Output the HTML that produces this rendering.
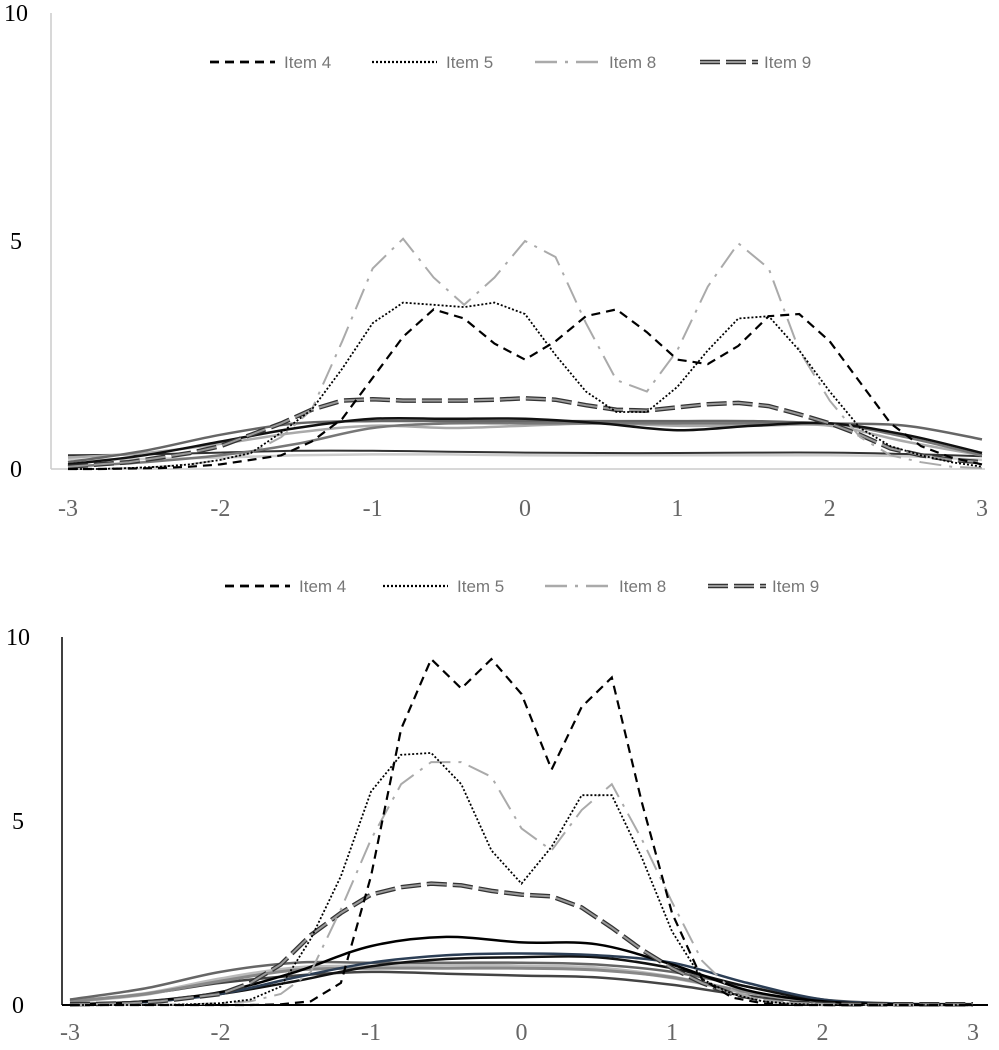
<!DOCTYPE html>
<html><head><meta charset="utf-8"><style>
body{margin:0;background:#fff;}
svg{display:block;}
.yl{font-family:"Liberation Serif",serif;font-size:24px;fill:#000;}
.xl{font-family:"Liberation Serif",serif;font-size:24px;fill:#666;}
.lg{font-family:"Liberation Sans",sans-serif;font-size:17px;fill:#777;}
</style></head><body>
<svg id="c" width="999" height="1050" viewBox="0 0 999 1050"></svg>
<script>
const xFine = [-3,-2.8,-2.6,-2.4,-2.2,-2,-1.8,-1.6,-1.4,-1.2,-1,-0.8,-0.6,-0.4,-0.2,0,0.2,0.4,0.6,0.8,1,1.2,1.4,1.6,1.8,2,2.2,2.4,2.6,2.8,3];
const xCoarse = [-3,-2.5,-2,-1.5,-1,-0.5,0,0.5,1,1.5,2,2.5,3];
const xTicks = [-3,-2,-1,0,1,2,3];
const yTicks = [0,5,10];
const legendNames = ["Item 4","Item 5","Item 8","Item 9"];
// Top chart
const topItem4 = [0,0,0.01,0.02,0.05,0.1,0.2,0.3,0.6,1.1,2.0,2.9,3.5,3.3,2.75,2.4,2.8,3.35,3.5,3.0,2.4,2.3,2.7,3.35,3.4,2.8,1.9,1.0,0.5,0.25,0.1];
const topItem5 = [0,0,0.02,0.05,0.1,0.2,0.35,0.8,1.3,2.2,3.2,3.65,3.6,3.55,3.65,3.4,2.5,1.7,1.25,1.25,1.8,2.6,3.3,3.35,2.6,1.7,0.9,0.5,0.3,0.15,0.05];
const topItem8 = [0,0,0.02,0.05,0.1,0.2,0.35,0.7,1.3,2.8,4.4,5.05,4.2,3.6,4.2,5.0,4.65,3.2,1.95,1.7,2.6,4.0,4.95,4.4,2.6,1.5,0.7,0.3,0.15,0.05,0.02];
const topItem9 = [0.05,0.1,0.15,0.25,0.35,0.5,0.75,1.0,1.3,1.5,1.53,1.5,1.5,1.5,1.52,1.55,1.52,1.4,1.3,1.28,1.35,1.42,1.45,1.38,1.2,1.0,0.75,0.45,0.3,0.2,0.15];
const topSolid1 = [0.1,0.3,0.6,0.9,1.1,1.1,1.1,1.0,0.85,0.95,1.0,0.75,0.35];
const topSolid2 = [0.15,0.4,0.75,1.0,1.05,1.05,1.05,1.05,1.05,1.05,1.0,0.95,0.65];
const topSolid3 = [0.05,0.15,0.3,0.55,0.9,1.0,1.0,1.0,1.0,1.0,1.0,0.7,0.3];
const topSolid4 = [0.25,0.35,0.55,0.8,0.95,0.9,0.95,1.0,0.95,0.95,0.95,0.6,0.3];
const topSolid5 = [0.3,0.32,0.36,0.4,0.4,0.38,0.36,0.35,0.35,0.36,0.36,0.33,0.28];
const topSolid6 = [0.2,0.22,0.25,0.3,0.32,0.32,0.3,0.3,0.3,0.3,0.3,0.28,0.2];
// Bottom chart
const botItem4 = [0,0,0,0,0,0,0,0.02,0.1,0.6,3.5,7.5,9.4,8.6,9.4,8.45,6.4,8.1,8.9,5.5,2.5,0.7,0.2,0.05,0,0,0,0,0,0,0];
const botItem5 = [0,0,0,0,0.02,0.05,0.15,0.5,1.8,3.5,5.8,6.8,6.85,6.0,4.2,3.3,4.3,5.7,5.7,4.0,2.0,0.7,0.3,0.1,0.03,0,0,0,0,0,0];
const botItem8 = [0,0,0,0,0.02,0.05,0.1,0.3,0.9,2.6,4.5,6.0,6.6,6.6,6.2,4.8,4.2,5.3,6.0,4.5,2.8,1.2,0.4,0.1,0.03,0,0,0,0,0,0];
const botItem9 = [0.02,0.03,0.05,0.1,0.2,0.3,0.6,1.1,1.9,2.5,3.0,3.2,3.3,3.25,3.1,3.0,2.95,2.65,2.1,1.5,1.0,0.6,0.3,0.15,0.06,0.03,0.02,0.02,0.02,0.02,0.02];
const botSolid1 = [0.02,0.1,0.35,0.9,1.6,1.85,1.7,1.65,1.1,0.4,0.1,0.02,0.01];
const botSolid2 = [0.02,0.08,0.3,0.75,1.15,1.35,1.4,1.35,1.15,0.6,0.15,0.03,0.01];
const botSolid3 = [0.02,0.08,0.3,0.65,1.05,1.25,1.3,1.3,1.0,0.5,0.12,0.03,0.01];
const botSolid4 = [0.15,0.45,0.9,1.15,1.15,1.15,1.15,1.1,0.9,0.5,0.15,0.04,0.01];
const botSolid5 = [0.1,0.3,0.7,1.0,1.05,1.1,1.05,1.0,0.75,0.35,0.1,0.02,0.01];
const botSolid6 = [0.1,0.3,0.6,0.8,0.9,0.85,0.8,0.75,0.55,0.25,0.07,0.02,0.01];
const botSolid7 = [0.1,0.3,0.65,0.95,1.0,1.0,1.0,0.95,0.75,0.35,0.1,0.02,0.01];

const NS="http://www.w3.org/2000/svg";
const svg=document.getElementById('c');
function mk(tag,attrs,parent){const e=document.createElementNS(NS,tag);for(const k in attrs)e.setAttribute(k,attrs[k]);(parent||svg).appendChild(e);return e;}

function linePath(xs,ys,sx,sy){return xs.map((x,i)=>(i?'L':'M')+sx(x).toFixed(1)+','+sy(ys[i]).toFixed(1)).join(' ');}
function smoothPath(xs,ys,sx,sy){
  const p=xs.map((x,i)=>[sx(x),sy(ys[i])]);
  let d='M'+p[0][0].toFixed(1)+','+p[0][1].toFixed(1);
  for(let i=0;i<p.length-1;i++){
    const p0=p[Math.max(0,i-1)],p1=p[i],p2=p[i+1],p3=p[Math.min(p.length-1,i+2)];
    const c1=[p1[0]+(p2[0]-p0[0])/6,p1[1]+(p2[1]-p0[1])/6];
    const c2=[p2[0]-(p3[0]-p1[0])/6,p2[1]-(p3[1]-p1[1])/6];
    d+=' C'+c1.map(v=>v.toFixed(1)).join(',')+' '+c2.map(v=>v.toFixed(1)).join(',')+' '+p2[0].toFixed(1)+','+p2[1].toFixed(1);
  }
  return d;
}
const styles=[
  {stroke:'#000',w:2.2,dash:'9,6'},
  {stroke:'#000',w:1.8,dash:'2,2'},
  {stroke:'#aaa',w:2,dash:'22,8,3,8'},
  null
];
function drawItem9(g,d,name){
  const a=mk('path',{d:d,fill:'none',stroke:'#333',"stroke-width":4.5,"stroke-dasharray":'20,6'},g);
  
  
  const b=mk('path',{d:d,fill:'none',stroke:'#999',"stroke-width":2,"stroke-dasharray":'20,6'},g);
  
  
}
function chart(cfg){
  const g=mk('g',{});
  
  
  const sx=x=>cfg.x0+(x+3)*(cfg.x1-cfg.x0)/6;
  const sy=y=>cfg.y0-y*cfg.u;
  const ax=mk('line',{x1:cfg.ax,y1:cfg.y0,x2:cfg.ax,y2:sy(10),stroke:cfg.axisColor,"stroke-width":1.5},g);
  
  
  const bx=mk('line',{x1:cfg.ax,y1:cfg.y0,x2:cfg.axEnd,y2:cfg.y0,stroke:cfg.axisColor,"stroke-width":cfg.baseW},g);
  
  
  yTicks.forEach(t=>{const e=mk('text',{x:cfg.ylx,y:sy(t)+8,'text-anchor':'middle',class:'yl'},g);e.textContent=t;
    
    });
  xTicks.forEach(t=>{const e=mk('text',{x:sx(t),y:cfg.xly,'text-anchor':'middle',class:'xl'},g);e.textContent=t;
    
    });
  cfg.solids.forEach((s,i)=>{const e=mk('path',{d:smoothPath(xCoarse,s.v,sx,sy),fill:'none',stroke:s.c,"stroke-width":s.w},g);
    
    });
  drawItem9(g,linePath(xFine,cfg.items[3],sx,sy),'item-9-line');
  [2,1,0].forEach(i=>{const st=styles[i];const e=mk('path',{d:linePath(xFine,cfg.items[i],sx,sy),fill:'none',stroke:st.stroke,"stroke-width":st.w,"stroke-dasharray":st.dash},g);
    
    });
  cfg.legend.forEach((lx,i)=>{
    const lg=mk('g',{},g);
    
    
    const len=i===3?58:65;
    const d='M'+lx+','+cfg.ly+' L'+(lx+len)+','+cfg.ly;
    if(i===3){drawItem9(lg,d,'legend-swatch');}
    else{const st=styles[i];const e=mk('path',{d:d,stroke:st.stroke,"stroke-width":st.w+0.5,"stroke-dasharray":st.dash},lg);
      
      }
    const t=mk('text',{x:lx+(i===3?64:74),y:cfg.ly+6,class:'lg'},lg);t.textContent=legendNames[i];
    
    
  });
}
chart({name:'top-chart',x0:68,x1:982,y0:469,u:45.6,ax:51,axEnd:985,axisColor:'#ccc',baseW:1.5,ylx:16,xly:516,
  items:[topItem4,topItem5,topItem8,topItem9],
  solids:[{v:topSolid6,c:'#ccc',w:2.5},{v:topSolid5,c:'#333',w:2},{v:topSolid4,c:'#aaa',w:2.5},{v:topSolid3,c:'#777',w:2.5},{v:topSolid2,c:'#666',w:2.5},{v:topSolid1,c:'#111',w:2.5}],
  legend:[210,372,535,700],ly:62});
chart({name:'bottom-chart',x0:70,x1:973,y0:1005,u:36.8,ax:62,axEnd:988,axisColor:'#000',baseW:2,ylx:18,xly:1040,
  items:[botItem4,botItem5,botItem8,botItem9],
  solids:[{v:botSolid6,c:'#444',w:2.5},{v:botSolid5,c:'#bbb',w:4},{v:botSolid7,c:'#888',w:3},{v:botSolid4,c:'#666',w:2.5},{v:botSolid3,c:'#111',w:2.5},{v:botSolid2,c:'#2c3e55',w:2.5},{v:botSolid1,c:'#000',w:2.5}],
  legend:[225,383,545,708],ly:586});
</script>
</body></html>
